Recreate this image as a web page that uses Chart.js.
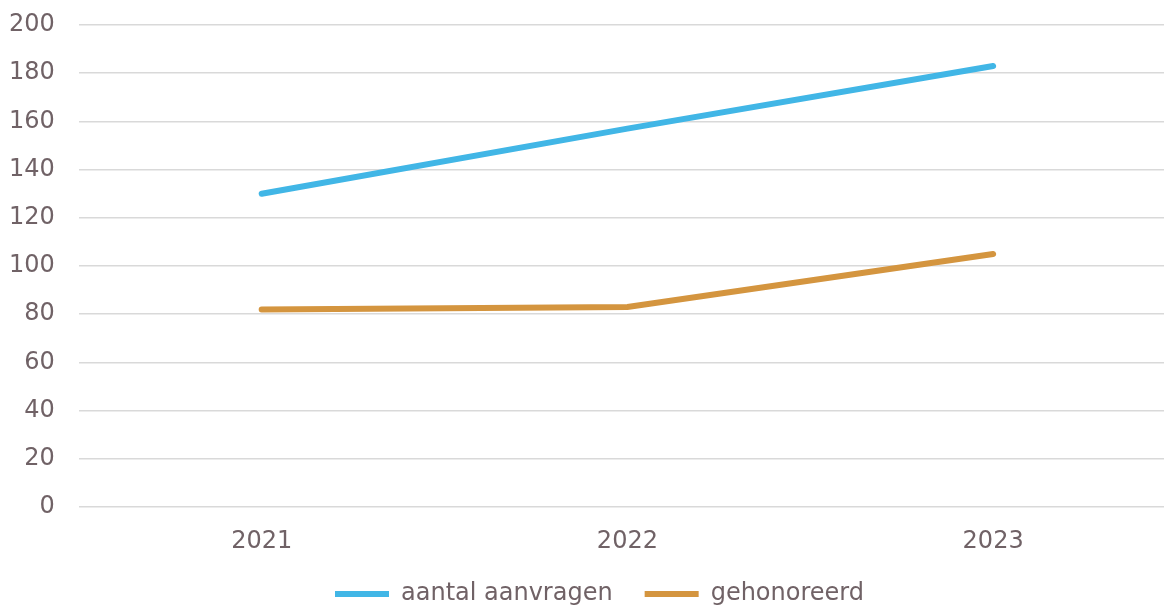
<!DOCTYPE html>
<html>
<head>
<meta charset="utf-8">
<script src="https://cdn.jsdelivr.net/npm/chart.js@4"></script>
<style>
  html, body { margin: 0; padding: 0; background: #fff; overflow: hidden; }
  #wrap { width: 1176px; height: 605px; }
</style>
</head>
<body>
<div id="wrap"><canvas id="lijn"></canvas></div>
<script>
var jaren = ["2021", "2022", "2023"];
var aanvragen = [130, 157, 183];
var gehonoreerd = [82, 83, 105];

var tekstKleur = "#706266";
var letter = { family: "DejaVu Sans", size: 24 };

// legenda iets naar rechts, zoals in het origineel
var legendaSchuif = {
  id: "legendaSchuif",
  afterLayout: function (chart) {
    chart.legend.left += 19;
    chart.legend.right += 19;
  },
};

var ctx = document.getElementById("lijn").getContext("2d");
var chart = new Chart(ctx, {
  type: "line",
  data: {
    labels: jaren,
    datasets: [
      {
        label: "aantal aanvragen",
        data: aanvragen,
        borderColor: "#41b6e6",
        backgroundColor: "#41b6e6",
        borderWidth: 6,
        borderCapStyle: "round",
        pointRadius: 0,
        fill: false,
      },
      {
        label: "gehonoreerd",
        data: gehonoreerd,
        borderColor: "#d4953f",
        backgroundColor: "#d4953f",
        borderWidth: 6,
        borderCapStyle: "round",
        pointRadius: 0,
        fill: false,
      },
    ],
  },
  options: {
    responsive: true,
    maintainAspectRatio: false,
    animation: false,
    layout: { padding: { top: 25, left: -15, right: 0, bottom: -11 } },
    plugins: {
      tooltip: { enabled: false },
      legend: {
        position: "bottom",
        labels: {
          usePointStyle: true,
          pointStyle: "line",
          pointStyleWidth: 54,
          padding: 32,
          color: tekstKleur,
          font: letter,
        },
      },
    },
    scales: {
      x: {
        offset: true,
        grid: { display: false, tickLength: 27 },
        border: { display: false },
        ticks: {
          color: tekstKleur,
          padding: -6.4,
          font: letter,
        },
      },
      y: {
        min: 0,
        max: 200,
        ticks: {
          stepSize: 20,
          color: tekstKleur,
          padding: 24,
          font: letter,
        },
        grid: { color: "#d9d9d9", lineWidth: 1.5, drawTicks: false },
        border: { display: false },
        afterFit: function (scale) {
          scale.paddingTop = 0;
        },
      },
    },
  },
  plugins: [legendaSchuif],
});
</script>
</body>
</html>
